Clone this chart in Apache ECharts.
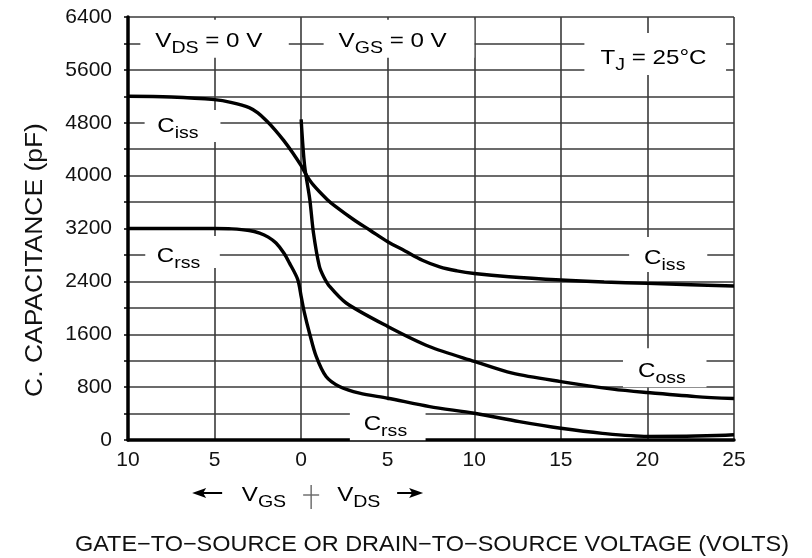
<!DOCTYPE html>
<html>
<head>
<meta charset="utf-8">
<script src="https://cdn.jsdelivr.net/npm/echarts@6/dist/echarts.min.js"></script>
<style>
html,body{margin:0;padding:0;background:#fff;}
#c{width:812px;height:558px;}
</style>
</head>
<body>
<div id="c"></div>
<script>
// ---- data (x: negative = VGS side, positive = VDS side; volts) ----
var cissX = [-10, -7.5, -5, -4, -3, -2.5, -2, -1.5, -1, -0.5, 0, 0.3, 0.7, 1.5, 2, 3, 4, 5, 6, 7, 8, 9, 10, 12, 15, 17.5, 20, 22.5, 25];
var cissY = [5200, 5190, 5150, 5105, 5030, 4950, 4830, 4690, 4530, 4350, 4150, 4010, 3860, 3640, 3530, 3340, 3170, 3000, 2860, 2720, 2620, 2560, 2520, 2470, 2420, 2390, 2370, 2350, 2330];

var cossX = [0, 0.2, 0.5, 0.71, 1.05, 1.3, 1.64, 2.6, 5, 7.4, 10, 12.2, 15, 18, 20, 22.8, 25];
var cossY = [4850, 4150, 3640, 3135, 2630, 2470, 2325, 2073, 1718, 1415, 1190, 1012, 884, 770, 718, 657, 627];

var crssX = [-10, -5, -4, -3, -2.4, -1.9, -1.45, -1, -0.68, -0.2, 0, 0.19, 0.48, 0.87, 1.44, 2.21, 3.37, 5, 7.42, 10, 12.6, 15, 17.4, 20, 22.8, 25];
var crssY = [3200, 3200, 3195, 3170, 3130, 3070, 2980, 2830, 2680, 2430, 2174, 1922, 1619, 1264, 960, 809, 708, 632, 505, 405, 278, 177, 101, 55, 60, 80];

var yMax = 6400;

function pairs(xs, ys) { return xs.map(function (x, i) { return [x, ys[i]]; }); }

var FONT = 'Liberation Sans, Arial, sans-serif';
var INK = '#111';
var SX = 1.15; // horizontal stretch of the reference lettering
var rich = {
  m: { fontSize: 21, fontFamily: FONT, color: INK, lineHeight: 24, verticalAlign: 'bottom' },
  s: { fontSize: 17, fontFamily: FONT, color: INK, lineHeight: 17, verticalAlign: 'bottom', padding: [0, 0, -5, 0] }
};

var chart = echarts.init(document.getElementById('c'), null, { renderer: 'canvas' });
var lineStyle = { color: '#000', width: 3.4 };

chart.setOption({
  animation: false,
  backgroundColor: '#fff',
  grid: { left: 128, right: 78, top: 17, bottom: 118, containLabel: false },
  xAxis: {
    type: 'value', min: -10, max: 25, interval: 5,
    axisLine: { show: true, onZero: false, lineStyle: { color: '#000', width: 3.5 } },
    axisTick: { show: false },
    axisLabel: {
      margin: 10, fontSize: 21, fontFamily: FONT, color: INK,
      formatter: function (v) { return String(Math.abs(v)); }
    },
    splitLine: { show: true, lineStyle: { color: '#3a3a3a', width: 1.6 } }
  },
  yAxis: {
    type: 'value', min: 0, max: yMax, interval: 400,
    axisLine: { show: true, onZero: false, lineStyle: { color: '#000', width: 3.5 } },
    axisTick: { show: true, length: 4, lineStyle: { color: '#000', width: 1.5 } },
    axisLabel: {
      margin: 16, fontSize: 21, fontFamily: FONT, color: INK,
      formatter: function (v) { return v % 800 === 0 ? String(v) : ''; }
    },
    splitLine: { show: true, lineStyle: { color: '#3a3a3a', width: 1.6 } }
  },
  series: [
    { type: 'line', name: 'Ciss', data: pairs(cissX, cissY), smooth: 0.35, showSymbol: false, lineStyle: lineStyle, z: 5 },
    { type: 'line', name: 'Coss', data: pairs(cossX, cossY), smooth: 0.3, showSymbol: false, lineStyle: lineStyle, z: 5 },
    { type: 'line', name: 'Crss', data: pairs(crssX, crssY), smooth: 0.3, showSymbol: false, lineStyle: lineStyle, z: 5 }
  ]
});

// annotations: [x, y (data units, box centre), rich text, padding]
var notes = [
  [-5.0, 6070, '{m|V}{s|DS}{m| = 0 V}', [8, 23, 6, 13]],
  [5.65, 6070, '{m|V}{s|GS}{m| = 0 V}', [8, 24, 6, 13]],
  [20.45, 5840, '{m|T}{s|J}{m| = 25\u00b0C}', [12, 17, 6, 14]],
  [-6.85, 4750, '{m|C}{s|iss}', [3, 19, 5, 11]],
  [-6.85, 2845, '{m|C}{s|rss}', [7, 17, 1, 10]],
  [21.2, 2805, '{m|C}{s|iss}', [8, 19, 3, 13]],
  [21.0, 1095, '{m|C}{s|oss}', [10, 18, 5, 13]],
  [5.0, 300, '{m|C}{s|rss}', [11, 16, 5, 12]]
];

var g = [];
notes.forEach(function (n) {
  var p = chart.convertToPixel({ gridIndex: 0 }, [n[0], n[1]]);
  g.push({
    type: 'text', x: p[0], y: p[1], scaleX: SX, z: 3,
    style: { text: n[2], rich: rich, align: 'center', verticalAlign: 'middle', backgroundColor: '#fff', padding: n[3] }
  });
});

// axis titles
g.push({
  type: 'text', x: 36, y: 260, rotation: Math.PI / 2, scaleX: 1.15,
  style: { text: 'C. CAPACITANCE (pF)', fontSize: 23, fontFamily: FONT, fill: INK, align: 'center', verticalAlign: 'middle' }
});
g.push({
  type: 'text', x: 432, y: 545, scaleX: 1.066,
  style: { text: 'GATE\u2212TO\u2212SOURCE OR DRAIN\u2212TO\u2212SOURCE VOLTAGE (VOLTS)', fontSize: 22, fontFamily: FONT, fill: INK, align: 'center', verticalAlign: 'middle' }
});

// V_GS | V_DS direction legend below the axis, around x = 0
var p0 = chart.convertToPixel({ gridIndex: 0 }, [0, 0]);
var cx = p0[0] + 10, cy = 494;
g.push({ type: 'text', x: cx - 25, y: cy, scaleX: SX, style: { text: '{m|V}{s|GS}', rich: rich, align: 'right', verticalAlign: 'middle' } });
g.push({ type: 'text', x: cx + 26, y: cy, scaleX: SX, style: { text: '{m|V}{s|DS}', rich: rich, align: 'left', verticalAlign: 'middle' } });
g.push({ type: 'line', shape: { x1: cx, y1: cy - 9, x2: cx, y2: cy + 15 }, style: { stroke: '#666', lineWidth: 1.4 } });
g.push({ type: 'line', shape: { x1: cx - 8, y1: cy + 1, x2: cx + 8, y2: cy + 1 }, style: { stroke: '#666', lineWidth: 1.4 } });
g.push({ type: 'line', shape: { x1: cx - 110, y1: cy - 1, x2: cx - 89, y2: cy - 1 }, style: { stroke: '#000', lineWidth: 2 } });
g.push({ type: 'polygon', shape: { points: [[cx - 119, cy - 1], [cx - 105, cy - 6], [cx - 108, cy - 1], [cx - 105, cy + 4]] }, style: { fill: '#000' } });
g.push({ type: 'line', shape: { x1: cx + 86, y1: cy - 1, x2: cx + 104, y2: cy - 1 }, style: { stroke: '#000', lineWidth: 2 } });
g.push({ type: 'polygon', shape: { points: [[cx + 112, cy - 1], [cx + 98, cy - 6], [cx + 101, cy - 1], [cx + 98, cy + 4]] }, style: { fill: '#000' } });

chart.setOption({ graphic: g });
</script>
</body>
</html>
